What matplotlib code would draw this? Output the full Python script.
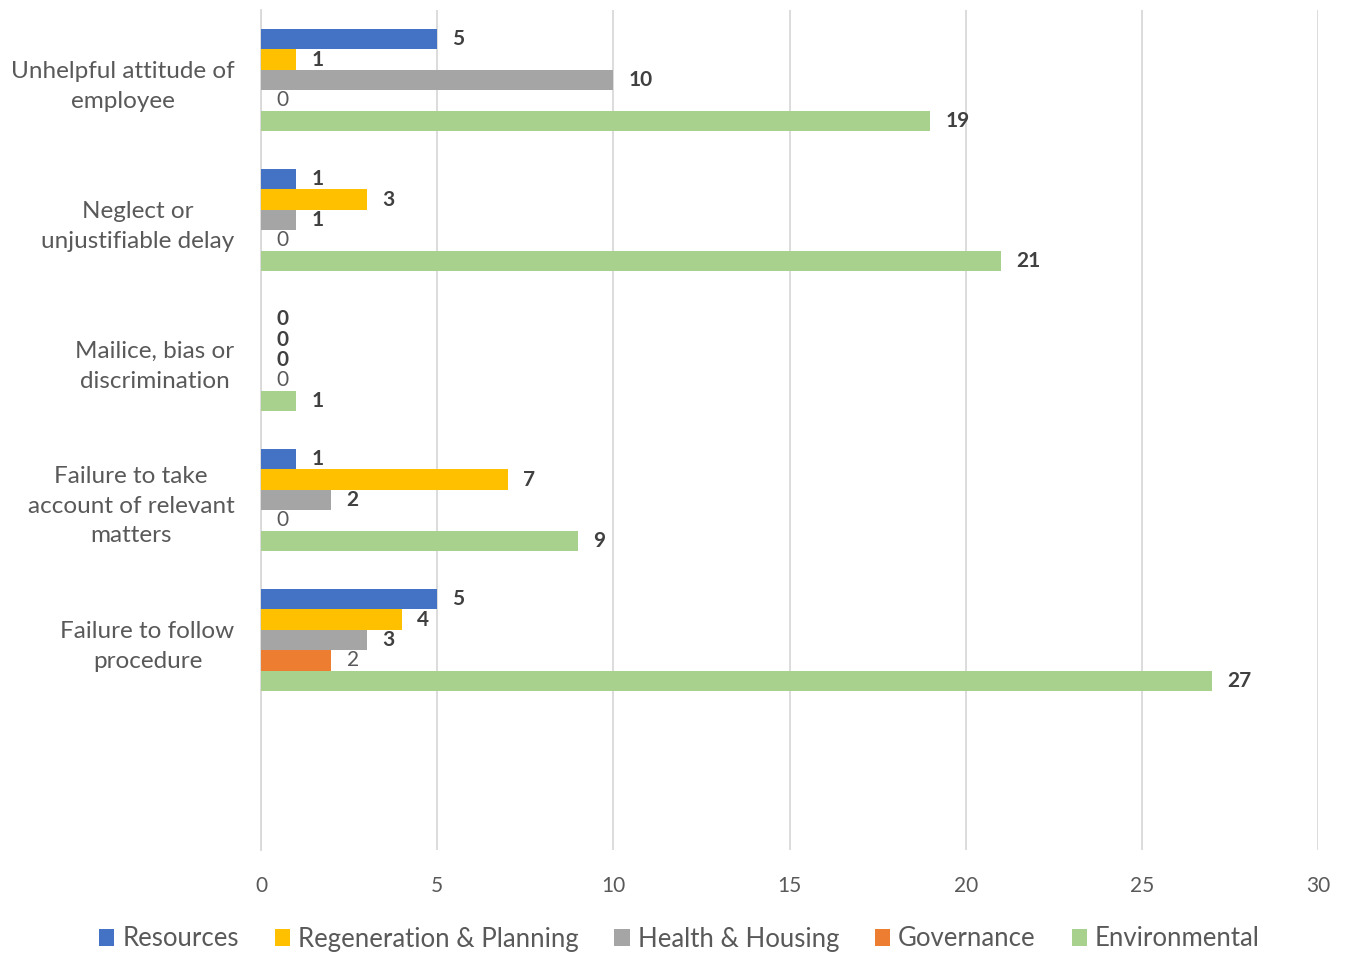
import matplotlib.pyplot as plt

plt.rcParams['font.family'] = ['Lato', 'DejaVu Sans']

categories = ["Unhelpful attitude of\nemployee",
              "Neglect or\nunjustifiable delay",
              "Mailice, bias or\ndiscrimination",
              "Failure to take\naccount of relevant\nmatters",
              "Failure to follow\nprocedure",
              ""]
series = ["Resources", "Regeneration & Planning", "Health & Housing",
          "Governance", "Environmental"]
resources = [5, 1, 0, 1, 5]
regeneration = [1, 3, 0, 7, 4]
health = [10, 1, 0, 2, 3]
governance = [0, 0, 0, 0, 2]
environmental = [19, 21, 1, 9, 27]
colors = ["#4472C4", "#FFC000", "#A5A5A5", "#ED7D31", "#A9D18E"]
bold_labels = [True, True, True, False, True]

values = [resources, regeneration, health, governance, environmental]

fig = plt.figure(figsize=(13.48, 9.56), dpi=100)
ax = fig.add_axes([261 / 1348, 1 - 850 / 956, 1057 / 1348, 840 / 956])

bh = 0.146
for j, (name, vals) in enumerate(zip(series, values)):
    ys = [i + (j - 2) * bh for i in range(len(vals))]
    ax.barh(ys, vals, height=bh, color=colors[j], label=name, zorder=3)
    for y, v in zip(ys, vals):
        ax.annotate(str(v), (v, y), xytext=(11, 0), textcoords='offset points',
                    va='center', ha='left', fontsize=15,
                    fontweight='bold' if bold_labels[j] else 'normal',
                    color='#404040' if bold_labels[j] else '#595959')

ax.set_xlim(0, 30)
ax.set_ylim(5.5, -0.5)
ax.set_xticks(range(0, 31, 5))
ax.set_yticks(range(len(categories)))
ax.set_yticklabels(categories, fontsize=17.5, color='#595959', linespacing=1.5,
                   multialignment='center')
ax.tick_params(axis='x', labelsize=15, labelcolor='#595959', length=0, pad=19)
ax.tick_params(axis='y', length=0, pad=19)
ax.grid(axis='x', color='#D9D9D9', linewidth=1.3, zorder=0)
for s in ['top', 'right', 'bottom']:
    ax.spines[s].set_visible(False)
ax.spines['left'].set_color('#D9D9D9')
ax.spines['left'].set_linewidth(1.3)

fig.legend(loc='center', bbox_to_anchor=(0.504, 1 - 939 / 956), ncol=5,
           frameon=False, fontsize=18.5, labelcolor='#595959',
           handlelength=0.6, handleheight=0.6, handletextpad=0.3,
           columnspacing=1.4)

fig.savefig('out.png', dpi=100)
